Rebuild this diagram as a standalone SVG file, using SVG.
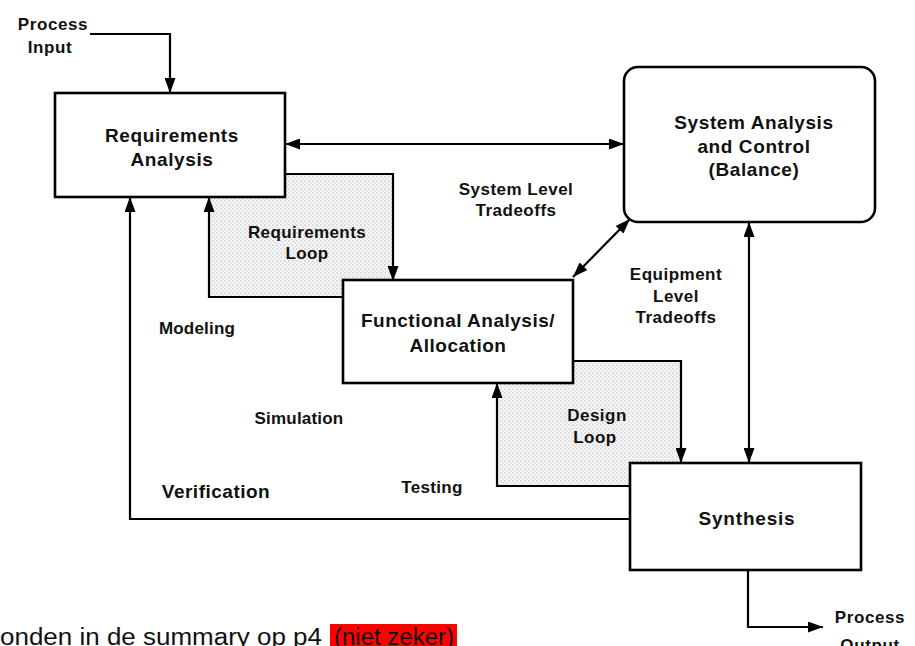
<svg xmlns="http://www.w3.org/2000/svg" width="915" height="646" viewBox="0 0 915 646">
<style>
  .box { fill: #fff; stroke: #000; stroke-width: 2.6; }
  .con { fill: none; stroke: #000; stroke-width: 2.2; }
  .shade { fill: url(#dots); stroke: none; }
  .t { font-family: "Liberation Sans", Arial, sans-serif; font-weight: bold; fill: #111; text-anchor: middle; }
  .big { font-size: 19px; }
  .lbl { font-size: 17px; }
  .note { font-family: "Liberation Sans", Arial, sans-serif; font-size: 23px; fill: #111; }
</style>
<defs>
  <pattern id="dots" width="4" height="4" patternUnits="userSpaceOnUse">
    <rect width="4" height="4" fill="#f7f7f7"/>
    <circle cx="1" cy="1" r="0.7" fill="#b0b0b0"/>
    <circle cx="3" cy="3" r="0.7" fill="#c8c8c8"/>
  </pattern>
  <marker id="ah" viewBox="0 0 15 11" refX="15" refY="5.5" markerWidth="15" markerHeight="11" markerUnits="userSpaceOnUse" orient="auto-start-reverse">
    <path d="M0,0 L15,5.5 L0,11 Z" fill="#000"/>
  </marker>
</defs>
<rect width="915" height="646" fill="#fff"/>

<g id="loops">
  <polygon class="shade" points="285,174 393,174 393,281 343,281 343,297 209,297 209,197 285,197"/>
  <polygon class="shade" points="573,361 681,361 681,463 632,463 632,486 497,486 497,383 573,383"/>
</g>

<g id="connectors">
  <path class="con" d="M90,34 H170 V93" marker-end="url(#ah)"/>
  <path class="con" d="M285,144 H624" marker-start="url(#ah)" marker-end="url(#ah)"/>
  <path class="con" d="M573,277 L630,219" marker-start="url(#ah)" marker-end="url(#ah)"/>
  <path class="con" d="M749,222 V463" marker-start="url(#ah)" marker-end="url(#ah)"/>
  <path class="con" d="M285,174 H393 V281" marker-end="url(#ah)"/>
  <path class="con" d="M343,297 H209 V197" marker-end="url(#ah)"/>
  <path class="con" d="M573,361 H681 V463" marker-end="url(#ah)"/>
  <path class="con" d="M632,486 H497 V383" marker-end="url(#ah)"/>
  <path class="con" d="M630,519 H130 V197" marker-end="url(#ah)"/>
  <path class="con" d="M748,570 V627 H823" marker-end="url(#ah)"/>
</g>

<g id="req-analysis">
  <rect class="box" x="55" y="93" width="230" height="104"/>
  <text class="t big" x="172" y="142" letter-spacing="0.6">Requirements</text>
  <text class="t big" x="172" y="166" letter-spacing="0.6">Analysis</text>
</g>

<g id="system-analysis">
  <rect class="box" x="624" y="67" width="251" height="155" rx="14"/>
  <text class="t big" x="754" y="129" letter-spacing="0.6">System Analysis</text>
  <text class="t big" x="754" y="153" letter-spacing="0.6">and Control</text>
  <text class="t big" x="754" y="176" letter-spacing="0.6">(Balance)</text>
</g>

<g id="functional-analysis">
  <rect class="box" x="343" y="280" width="230" height="103"/>
  <text class="t big" x="458" y="327" letter-spacing="0.5">Functional Analysis/</text>
  <text class="t big" x="458" y="352" letter-spacing="0.5">Allocation</text>
</g>

<g id="synthesis">
  <rect class="box" x="630" y="463" width="231" height="107"/>
  <text class="t big" x="747" y="525" letter-spacing="0.8">Synthesis</text>
</g>

<g id="labels">
  <text class="t lbl" x="53" y="30" letter-spacing="0.6">Process</text>
  <text class="t lbl" x="50" y="53" letter-spacing="0.6">Input</text>
  <text class="t lbl" x="516" y="195" letter-spacing="0.5">System Level</text>
  <text class="t lbl" x="516" y="216" letter-spacing="0.5">Tradeoffs</text>
  <text class="t lbl" x="307" y="238" letter-spacing="0.4">Requirements</text>
  <text class="t lbl" x="307" y="259" letter-spacing="0.4">Loop</text>
  <text class="t lbl" x="676" y="280" letter-spacing="0.5">Equipment</text>
  <text class="t lbl" x="676" y="302" letter-spacing="0.5">Level</text>
  <text class="t lbl" x="676" y="323" letter-spacing="0.5">Tradeoffs</text>
  <text class="t lbl" x="597" y="421" letter-spacing="0.5">Design</text>
  <text class="t lbl" x="595" y="443" letter-spacing="0.5">Loop</text>
  <text class="t lbl" x="197" y="334" letter-spacing="0.2">Modeling</text>
  <text class="t lbl" x="299" y="424" letter-spacing="0.2">Simulation</text>
  <text class="t big" x="216" y="498" letter-spacing="0.5">Verification</text>
  <text class="t lbl" x="432" y="493" letter-spacing="0.3">Testing</text>
  <text class="t lbl" x="870" y="623" letter-spacing="0.6">Process</text>
  <text class="t lbl" x="870" y="651" letter-spacing="0.6">Output</text>
</g>

<g id="note">
  <rect x="330" y="624" width="127" height="22" fill="#ff0000"/>
  <text class="note" x="0" y="645" textLength="322" lengthAdjust="spacingAndGlyphs">onden in de summary op p4</text>
  <text class="note" x="334" y="645" textLength="120" lengthAdjust="spacingAndGlyphs">(niet zeker)</text>
</g>
</svg>
